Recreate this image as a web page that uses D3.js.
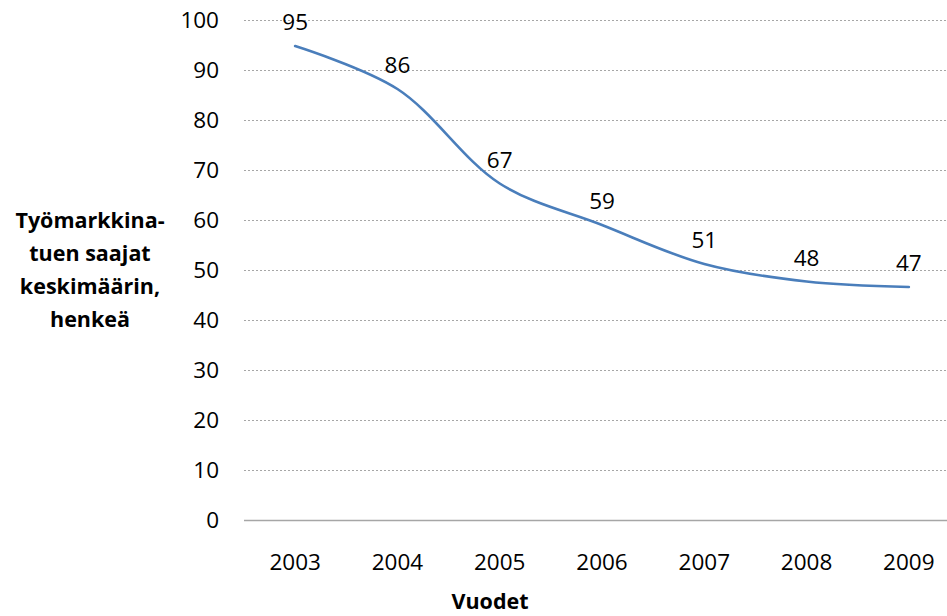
<!DOCTYPE html>
<html><head><meta charset="utf-8">
<script src="https://cdn.jsdelivr.net/npm/d3@7/dist/d3.min.js"></script>
<style>body{margin:0;background:#fff}svg{display:block}</style>
</head><body>
<svg id="c" width="947" height="616"></svg>
<script>
const years = ["2003","2004","2005","2006","2007","2008","2009"];
const values = [94.8, 86.2, 67.3, 59.0, 51.2, 47.7, 46.6];
const labels = ["95","86","67","59","51","48","47"];
const yTicks = [0,10,20,30,40,50,60,70,80,90,100];
const yTitle = ["Työmarkkina-","tuen saajat","keskimäärin,","henkeä"];
const xTitle = "Vuodet";

const svg = d3.select("#c");
const font = "'Open Sans', sans-serif";
const x = d3.scaleBand().domain(years).range([244, 960]);
const y = d3.scaleLinear().domain([0,100]).range([520, 20]);
const cx = d => x(d) + x.bandwidth()/2;

// gridlines
svg.append("g").selectAll("line").data(yTicks.filter(t => t > 0)).join("line")
  .attr("x1", 244).attr("x2", 947)
  .attr("y1", d => y(d) + 0.5).attr("y2", d => y(d) + 0.5)
  .attr("stroke", "#a6a6a6").attr("stroke-width", 1).attr("stroke-dasharray", "2,2");

// x axis line
svg.append("line").attr("x1", 244).attr("x2", 947)
  .attr("y1", y(0) + 0.5).attr("y2", y(0) + 0.5)
  .attr("stroke", "#a6a6a6").attr("stroke-width", 1.3);

// y tick labels
svg.append("g").selectAll("text").data(yTicks).join("text")
  .attr("x", 219).attr("y", d => y(d)).attr("dy", "0.36em")
  .attr("text-anchor", "end").attr("font-family", font).attr("font-size", 22.5)
  .attr("fill", "#000").text(d => d);

// x tick labels
svg.append("g").selectAll("text").data(years).join("text")
  .attr("x", d => cx(d)).attr("y", 570)
  .attr("text-anchor", "middle").attr("font-family", font).attr("font-size", 22.5)
  .attr("fill", "#000").text(d => d);

// line
const pts = years.map((d,i) => [cx(d), y(values[i])]);
svg.append("path").attr("d", d3.line().curve(d3.curveCatmullRom.alpha(0.5))(pts))
  .attr("fill", "none").attr("stroke", "#4a7ebb").attr("stroke-width", 2.6)
  .attr("stroke-linecap", "round");

// data labels
svg.append("g").selectAll("text").data(years).join("text")
  .attr("x", d => cx(d)).attr("y", (d,i) => y(values[i]) - 16)
  .attr("text-anchor", "middle").attr("font-family", font).attr("font-size", 22.5)
  .attr("fill", "#000").text((d,i) => labels[i]);

// y title
svg.append("g").selectAll("text").data(yTitle).join("text")
  .attr("x", 90).attr("y", (d,i) => 228 + i*33)
  .attr("text-anchor", "middle").attr("font-family", font).attr("font-size", 21.5)
  .attr("font-weight", "bold").attr("fill", "#000").text(d => d);

// x title
svg.append("text").attr("x", 490).attr("y", 609)
  .attr("text-anchor", "middle").attr("font-family", font).attr("font-size", 21.5)
  .attr("font-weight", "bold").attr("fill", "#000").text(xTitle);
</script>
</body></html>
